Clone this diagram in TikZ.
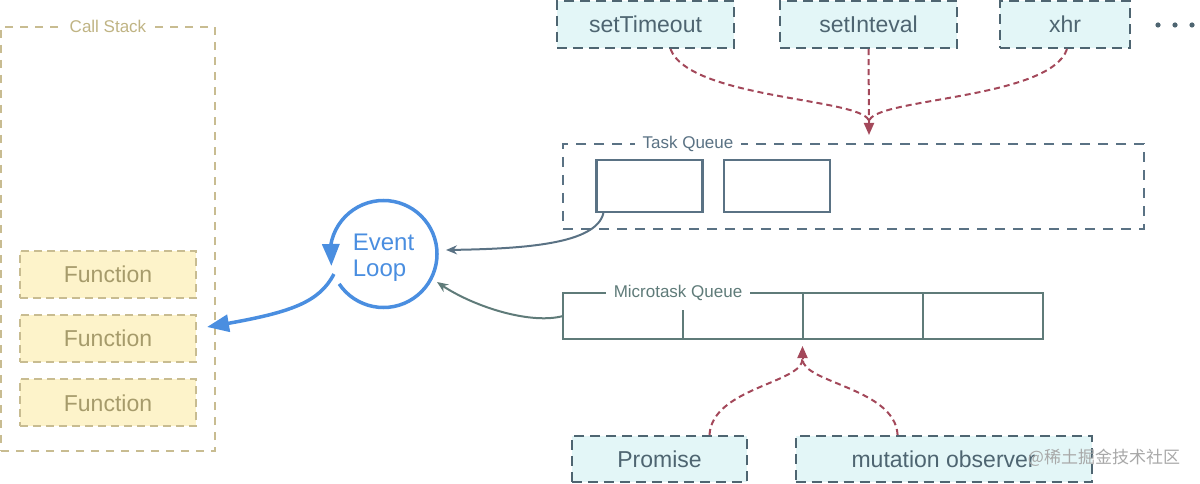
\documentclass[tikz,border=0pt]{standalone}
\usepackage{fontspec}
\setmainfont{Liberation Sans}
\newfontfamily\cjk{Noto Sans CJK SC}
\usetikzlibrary{positioning}
\usetikzlibrary{arrows.meta}
\usetikzlibrary{bending}
\definecolor{stackc}{HTML}{C8BC91}
\definecolor{stacktext}{HTML}{C0B484}
\definecolor{funcfill}{HTML}{FDF3CA}
\definecolor{functext}{HTML}{A69B6B}
\definecolor{apifill}{HTML}{E3F6F7}
\definecolor{apiline}{HTML}{4E6571}
\definecolor{taskline}{HTML}{5A7284}
\definecolor{microline}{HTML}{5F7B79}
\definecolor{pushred}{HTML}{A3485A}
\definecolor{loopblue}{HTML}{4A8EE0}
\definecolor{markgray}{HTML}{A8A8A8}

\begin{document}
\begin{tikzpicture}[x=1pt, y=-1pt,
    bigtext/.style={font=\fontsize{23}{27}\selectfont},
    smalltext/.style={font=\fontsize{17}{20}\selectfont, fill=white, inner xsep=8pt, inner ysep=0pt, minimum height=24pt},
    stackbox/.style={draw=stackc, line width=2pt, dash pattern=on 8pt off 7pt, minimum width=214pt, minimum height=424pt},
    funcbox/.style={bigtext, draw=stackc, fill=funcfill, text=functext, line width=2pt, dash pattern=on 8pt off 5pt, minimum width=176pt, minimum height=47pt},
    apibox/.style={bigtext, draw=apiline, fill=apifill, text=apiline, line width=2.2pt, dash pattern=on 10pt off 6pt, minimum height=47pt},
    taskbox/.style={draw=taskline, line width=2.2pt},
    cellbox/.style={draw=microline, line width=2.4pt, minimum width=120pt, minimum height=46pt, inner sep=0pt, outer sep=0pt},
    pushline/.style={draw=pushred, line width=2pt, dash pattern=on 6pt off 4pt},
    pusharrow/.style={draw=pushred, line width=2pt, solid, -{Triangle[length=12pt, width=10pt]}},
    looparrow/.style={draw=loopblue, line width=3.5pt, -{Triangle[length=22pt, width=17pt]}}
]
    \useasboundingbox (0,0) rectangle (1200,484);

    % Call Stack
    % - [Frame]
    \node at (108, 239) [stackbox](callstack){};
    \node at (callstack.north) [smalltext, text=stacktext, inner xsep=5pt](stacklabel){Call Stack};
    % - [Frames on the stack]
    \node at (108, 274.2) [funcbox](func_a){Function};
    \node at (108, 338.5) [funcbox](func_b){Function};
    \node at (108, 402.8) [funcbox](func_c){Function};

    % Web APIs
    \node at (645.5, 24.5) [apibox, minimum width=177pt](settimeout){setTimeout};
    \node at (868.5, 24.5) [apibox, minimum width=177pt](setinteval){setInteval};
    \node at (1065, 24.5) [apibox, minimum width=130pt](xhr){xhr};
    % -- more of them
    \fill [apiline] (1158, 25) circle (2.6pt) (1175, 25) circle (2.6pt) (1192, 25) circle (2.6pt);

    % Task Queue
    \node at (853.5, 186.5) [taskbox, dash pattern=on 10pt off 8pt, minimum width=581pt, minimum height=85pt](taskqueue){};
    \node at (688, 144) [smalltext, text=taskline](tasklabel){Task Queue};
    \node at (649.5, 186) [taskbox, minimum width=106pt, minimum height=52pt](task_a){};
    \node at (777, 186) [taskbox, minimum width=106pt, minimum height=52pt](task_b){};
    % - [Callbacks pushed into the Task Queue]
    \coordinate (taskin) at (869, 135);
    \coordinate (task_base) at (869, 122);
    \draw [pushline] ([xshift=25pt]settimeout.south) .. controls (690, 100) and (869, 98) .. (task_base);
    \draw [pushline] ([xshift=2pt]xhr.south) .. controls (1050, 100) and (869, 98) .. (task_base);
    \draw [pushline] (setinteval.south) -- (task_base);
    \draw [pusharrow] (task_base) -- (taskin);

    % Microtask Queue
    \node at (623, 316) [cellbox](micro_a){};
    \node [cellbox, right=0pt of micro_a](micro_b){};
    \node [cellbox, right=0pt of micro_b](micro_c){};
    \node [cellbox, right=0pt of micro_c](micro_d){};
    \node at (678, 293) [smalltext, text=microline, minimum height=33pt](microlabel){Microtask Queue};
    % - [Sources of microtasks]
    \node at (659.5, 459) [apibox, minimum width=175pt, minimum height=46pt](promise){Promise};
    \node at (943.6, 459) [apibox, minimum width=296pt, minimum height=46pt](mutation){mutation observer};
    \coordinate (microin) at (802.5, 346);
    \coordinate (micro_base) at (802.5, 359);
    \draw [pushline] ([xshift=50pt]promise.north) .. controls (712, 388) and (802.5, 383) .. (micro_base);
    \draw [pushline] ([xshift=-46pt]mutation.north) .. controls (895, 388) and (802.5, 383) .. (micro_base);
    \draw [pusharrow] (micro_base) -- (microin);

    % Event Loop
    \node at (383.5, 254) [circle, minimum size=107pt, inner sep=0pt, outer sep=0pt](loop){};
    \node at (383.5, 258) [text=loopblue, align=left, font=\fontsize{24}{26}\selectfont](looptext){Event\\Loop};
    \draw [looparrow] (loop.-146) arc[start angle=-146, end angle=193, radius=53.5pt];
    % -- Loop takes the next task
    \coordinate (loopin_task) at (446, 250);
    \coordinate (loopin_micro) at (437, 282);
    \draw [taskline, line width=2pt, -{Stealth[length=11pt, width=9pt]}] ([xshift=8pt]task_a.south west) .. controls (596, 245) and (520, 249) .. (loopin_task);
    \draw [microline, line width=2pt, -{Stealth[length=11pt, width=9pt]}] (micro_a.west) .. controls (530, 325) and (470, 306) .. (loopin_micro);
    % -- Loop pushes onto the Call Stack
    \coordinate (stackin) at (207, 327);
    \draw [looparrow] (loop.202) .. controls (318, 305) and (285, 314) .. (stackin);

    % Watermark
    \node at (1104, 458) [text=markgray, font=\cjk\fontsize{17}{20}\selectfont](mark){@稀土掘金技术社区};
\end{tikzpicture}
\end{document}
